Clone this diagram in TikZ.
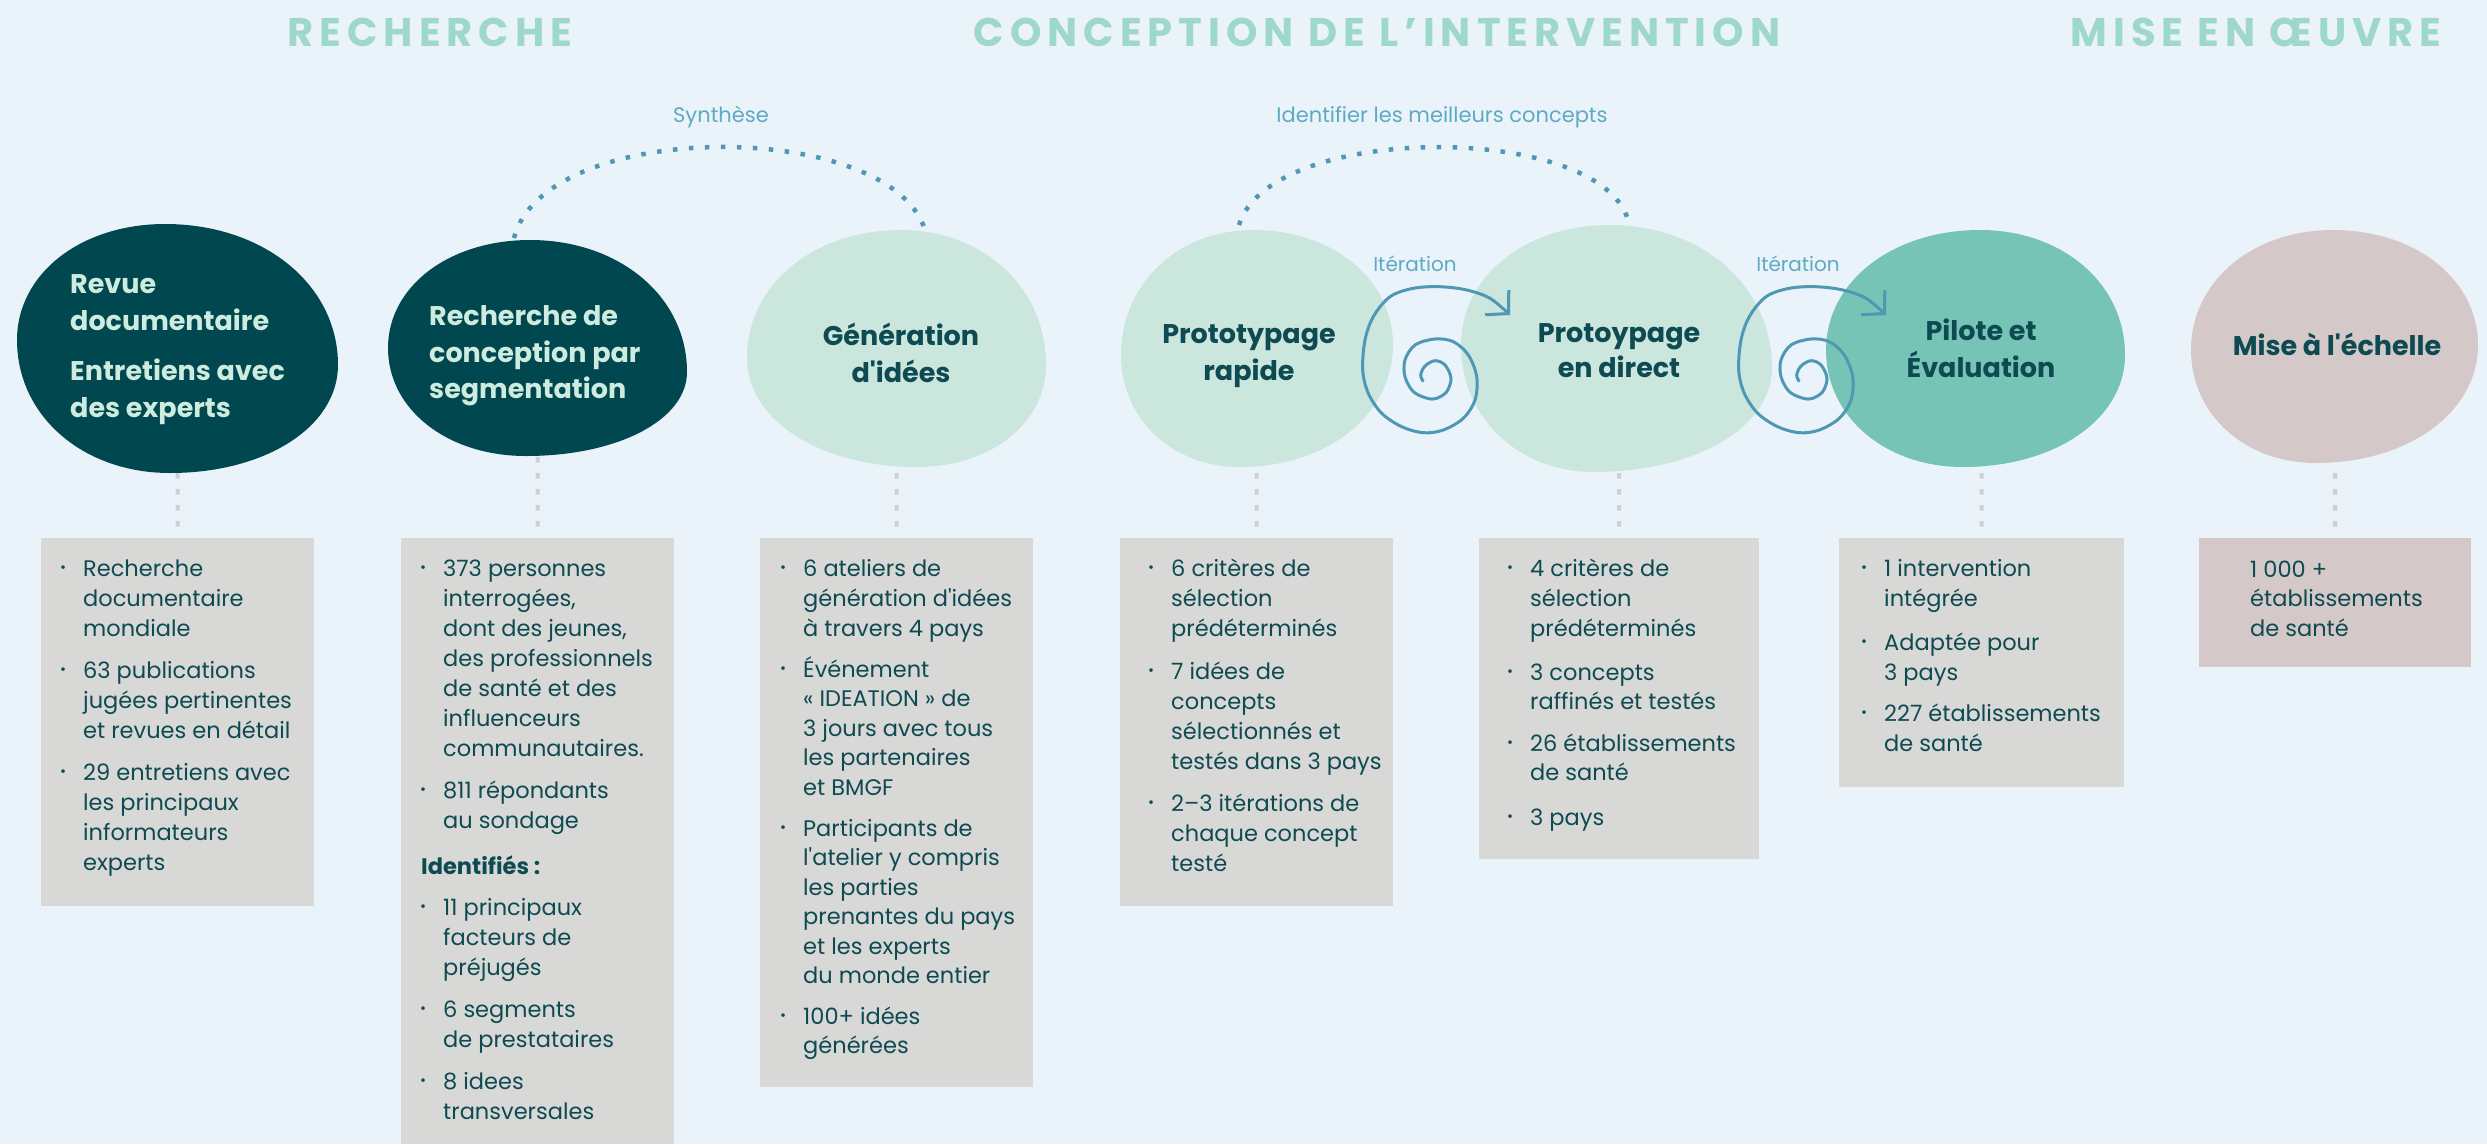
\documentclass[tikz,border=0pt]{standalone}
\usepackage{fontspec}
\setmainfont{Poppins}[Ligatures=TeXOff]
\usepackage{graphicx}
\usetikzlibrary{arrows.meta}
\definecolor{bg}{HTML}{EBF3FA}
\definecolor{titlec}{HTML}{9DD8CB}
\definecolor{darkb}{HTML}{01474F}
\definecolor{mintb}{HTML}{CAE6DD}
\definecolor{tealb}{HTML}{76C4B6}
\definecolor{mauve}{HTML}{D5C8C8}
\definecolor{boxg}{HTML}{D8D8D6}
\definecolor{ink}{HTML}{0E4A52}
\definecolor{lightt}{HTML}{CDEBDE}
\definecolor{arcc}{HTML}{4E98B5}
\definecolor{lblc}{HTML}{5FA9C3}
\definecolor{connc}{HTML}{CDD0D2}
\newcommand\bl{\llap{\raisebox{4pt}{\scalebox{0.65}{•}}\hspace{17pt}}}
\newcommand\putlines[4]{\foreach \myY/\myT [count=\myI] in {#4}{\node[#2] (#1-\myI) at (#3,\myY) {\myT};}}
% blob: colour, top x,y, right x,y, bottom x,y, left x,y
\newcommand\blob[9]{\fill[#1] (#2,#3) .. controls +({0.57*(#4-#2)},0) and +(0,{-0.57*(#5-#3)}) .. (#4,#5) .. controls +(0,{0.57*(#7-#5)}) and +({0.57*(#4-#6)},0) .. (#6,#7) .. controls +({-0.57*(#6-#8)},0) and +(0,{0.57*(#7-#9)}) .. (#8,#9) .. controls +(0,{-0.57*(#9-#3)}) and +({-0.57*(#2-#8)},0) .. cycle;}
\tikzset{
 titlet/.style={font=\fontsize{40}{42}\selectfont\bfseries\addfontfeatures{LetterSpace=15}, text=titlec, anchor=base, inner sep=0},
 blobl/.style={font=\fontsize{27}{37}\selectfont\bfseries, inner sep=0, anchor=base west, text=lightt},
 blobc/.style={font=\fontsize{27}{37}\selectfont\bfseries, inner sep=0, anchor=base, text=ink},
 boxt/.style={font=\fontsize{22.5}{30}\selectfont, text=ink, inner sep=0, anchor=base west},
 lbl/.style={font=\fontsize{21}{24}\selectfont, text=lblc, anchor=base, inner sep=0},
 boxr/.style={fill=boxg, draw=none, inner sep=0, anchor=north west},
 conn/.style={draw=connc, line width=4pt, dash pattern=on 5.5pt off 10.5pt},
 arcl/.style={draw=arcc, line width=4.5pt, dash pattern=on 4.5pt off 11.5pt},
 spir/.style={draw=arcc, line width=3pt, line join=round, -{Straight Barb[length=16pt,width=34pt]}}
}
\begin{document}
\begin{tikzpicture}[x=1pt,y=-1pt]
\useasboundingbox (0,0) rectangle (2487,1144);
\fill[bg] (0,0) rectangle (2487,1144);

% titles
\node[titlet] (t1) at (430,46) {RECHERCHE};
\node[titlet] (t2) at (1377,46) {CONCEPTION DE L’INTERVENTION};
\node[titlet] (t3) at (2256,46) {MISE EN ŒUVRE};

% blobs
\blob{darkb}{165}{224}{338}{365}{170}{473}{17}{340}
\blob{darkb}{530}{240}{687}{372}{526}{456}{388}{348}
\blob{mintb}{901}{230}{1046}{365}{917}{467}{747}{358}
\blob{mintb}{1253}{230}{1393}{345}{1240}{467}{1121}{355}
\blob{mintb}{1610}{225}{1772}{368}{1594}{472}{1461}{345}
\blob{tealb}{1980}{230}{2125}{355}{1963}{467}{1826}{350}
\blob{mauve}{2333}{230}{2478}{345}{2316}{463}{2191}{350}

% blob labels
\putlines{ba}{blobl}{70}{293/Revue, 330/documentaire, 380/Entretiens avec, 417/des experts}
\putlines{bb}{blobl}{429}{325/Recherche de, 362/conception par, 398/segmentation}
\putlines{bc}{blobc}{901}{345/Génération, 382/d'idées}
\putlines{bd}{blobc}{1249}{343/Prototypage, 380/rapide}
\putlines{be}{blobc}{1619}{342/Protoypage, 377/en direct}
\putlines{bf}{blobc}{1981}{340/Pilote et, 377/Évaluation}
\putlines{bg}{blobc}{2337}{355/Mise à l'échelle}

% spirals
\begin{scope}[shift={(1435,380)}]
\draw[spir] plot[smooth, tension=0.55] coordinates {(-11.7,1.7) (-14.3,-5) (-10,-14) (0,-19.3) (10,-15) (16,-1.7) (11.7,11.7) (1.7,18.3) (-7.7,18.3) (-21.7,11.7) (-30,-3.3) (-30,-20) (-20,-35) (0,-41) (18.3,-38.3) (33.3,-25) (41.7,-3.3) (40,20) (28.3,38.3) (8.3,50) (-11.7,52.7) (-33.3,46.7) (-53.3,33.3) (-66.7,13.3) (-72.3,-10) (-70,-40) (-61.7,-63.3) (-45,-83.3) (-21.7,-91.7) (5,-93.3) (31.7,-90) (55,-81.7) (75,-65)};
\end{scope}
\begin{scope}[shift={(1811,380)}]
\draw[spir] plot[smooth, tension=0.55] coordinates {(-11.7,1.7) (-14.3,-5) (-10,-14) (0,-19.3) (10,-15) (16,-1.7) (11.7,11.7) (1.7,18.3) (-7.7,18.3) (-21.7,11.7) (-30,-3.3) (-30,-20) (-20,-35) (0,-41) (18.3,-38.3) (33.3,-25) (41.7,-3.3) (40,20) (28.3,38.3) (8.3,50) (-11.7,52.7) (-33.3,46.7) (-53.3,33.3) (-66.7,13.3) (-72.3,-10) (-70,-40) (-61.7,-63.3) (-45,-83.3) (-21.7,-91.7) (5,-93.3) (31.7,-90) (55,-81.7) (75,-65)};
\end{scope}
\node[lbl, font=\fontsize{20}{22}\selectfont] (it1) at (1415,271) {Itération};
\node[lbl, font=\fontsize{20}{22}\selectfont] (it2) at (1798,271) {Itération};

% dotted arcs
\coordinate (a1s) at (514,238);
\coordinate (a1e) at (925,230);
\coordinate (a2s) at (1239,225);
\coordinate (a2e) at (1628,220);
\draw[arcl] (a1s) .. controls (545,118) and (890,118) .. (a1e);
\draw[arcl] (a2s) .. controls (1270,122) and (1600,122) .. (a2e);
\node[lbl] (syn) at (721,122) {Synthèse};
\node[lbl] (idc) at (1442,122) {Identifier les meilleurs concepts};

% boxes
\node[boxr, minimum width=273pt, minimum height=368pt] (k1) at (41,538) {};
\node[boxr, minimum width=273pt, minimum height=606pt] (k2) at (401,538) {};
\node[boxr, minimum width=273pt, minimum height=549pt] (k3) at (760,538) {};
\node[boxr, minimum width=273pt, minimum height=368pt] (k4) at (1120,538) {};
\node[boxr, minimum width=280pt, minimum height=321pt] (k5) at (1479,538) {};
\node[boxr, minimum width=285pt, minimum height=249pt] (k6) at (1839,538) {};
\node[boxr, fill=mauve, minimum width=272pt, minimum height=129pt] (k7) at (2199,538) {};

% connectors
\coordinate (c1) at (177.5,473);
\coordinate (c2) at (537.5,457);
\coordinate (c3) at (896.5,473);
\coordinate (c4) at (1256.5,473);
\coordinate (c5) at (1619,473);
\coordinate (c6) at (1981.5,473);
\coordinate (c7) at (2335,473);
\foreach \i in {1,...,7}{\draw[conn, shorten >=11pt] (c\i) -- (k\i.north);}

% box texts
\putlines{p1}{boxt}{83}{576/\bl Recherche, 606/documentaire, 636/mondiale, 678/\bl 63 publications, 708/jugées pertinentes, 738/et revues en détail, 780/\bl 29 entretiens avec, 810/les principaux, 840/informateurs, 870/experts}
\putlines{p2}{boxt}{443}{576/\bl 373 personnes, 606/{interrogées,}, 636/{dont des jeunes,}, 666/des professionnels, 696/de santé et des, 726/influenceurs, 756/communautaires., 798/\bl 811 répondants, 828/au sondage, 915/\bl 11 principaux, 945/facteurs de, 975/préjugés, 1017/\bl 6 segments, 1047/de prestataires, 1089/\bl 8 idees, 1119/transversales}
\node[boxt, font=\fontsize{22.5}{30}\selectfont\bfseries] (p2h) at (421,874) {Identifiés :};
\putlines{p3}{boxt}{803}{576/\bl 6 ateliers de, 606/génération d'idées, 636/à travers 4 pays, 677/\bl Événement, 706.5/« IDEATION » de, 736/3 jours avec tous, 765.5/les partenaires, 795/et BMGF, 836/\bl Participants de, 865.5/l'atelier y compris, 895/les parties, 924.5/prenantes du pays, 954/et les experts, 983.5/du monde entier, 1024/\bl 100+ idées, 1053.5/générées}
\putlines{p4}{boxt}{1171}{576/\bl 6 critères de, 606/sélection, 636/prédéterminés, 679/\bl 7 idées de, 709/concepts, 739/sélectionnés et, 769/testés dans 3 pays, 811/\bl 2–3 itérations de, 841/chaque concept, 871/testé}
\putlines{p5}{boxt}{1530}{576/\bl 4 critères de, 606/sélection, 636/prédéterminés, 680/\bl 3 concepts, 709/raffinés et testés, 751/\bl 26 établissements, 780/de santé, 825/\bl 3 pays}
\putlines{p6}{boxt}{1884}{576/\bl 1 intervention, 606/intégrée, 650/\bl Adaptée pour, 680/3 pays, 721/\bl 227 établissements, 751/de santé}
\putlines{p7}{boxt}{2250}{577/1 000 +, 606/établissements, 636/de santé}
\end{tikzpicture}
\end{document}
